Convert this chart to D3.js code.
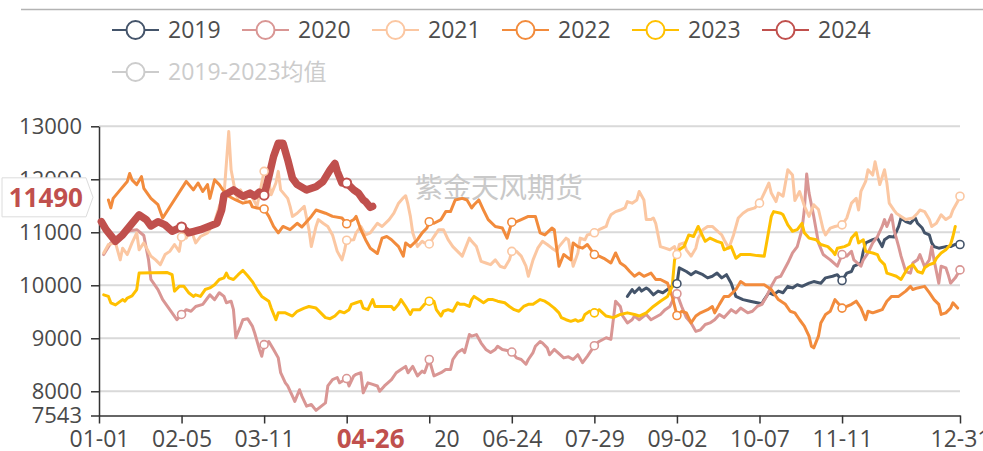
<!DOCTYPE html>
<html>
<head>
<meta charset="utf-8">
<script src="https://cdn.jsdelivr.net/npm/d3@7/dist/d3.min.js"></script>
<style>
  html, body { margin: 0; padding: 0; background: #fff; }
  svg { display: block; }
  text { font-family: "Open Sans", "Noto Sans CJK SC", sans-serif; }
</style>
</head>
<body>
<svg id="chart" width="983" height="451"></svg>
<script>
// Day-of-year (leap-year calendar, 0 = 01-01) tick positions and their labels
const tickDays   = [0, 35, 70, 105, 140, 175, 210, 245, 280, 315, 365];
const tickLabels = ["01-01", "02-05", "03-11", "04-15", "05-20", "06-24", "07-29", "09-02", "10-07", "11-11", "12-31"];
const yTicks = [7543, 8000, 9000, 10000, 11000, 12000, 13000];
const yMin = 7543, yMax = 13000;

const seriesNames = ["2019", "2020", "2021", "2022", "2023", "2024", "2019-2023均值"];
const seriesColors = ["#44546a", "#d99694", "#fbc7a2", "#f28b3c", "#ffc000", "#c0504d", "#cccccc"];

// Latest quote of the current year
const currentDay = 116, currentLabel = "04-26", currentValue = 11490;

// [day, price] pairs per year
const s2019 = [[224,9790],[226,9920],[227,9860],[229,9950],[230,9890],[232,9950],[233,9920],[235,9820],[237,9890],[239,9860],[241,9920],[243,9980],[245,10030],[246,10330],[249,10260],[251,10200],[253,10260],[256,10200],[258,10140],[260,10170],[262,10230],[264,10140],[266,10200],[268,10040],[270,9790],[273,9730],[276,9700],[279,9670],[281,9650],[282,9730],[284,9860],[286,9820],[288,9890],[290,9860],[292,9980],[294,9950],[296,10010],[298,9980],[301,10040],[303,10070],[306,10040],[308,10140],[311,10170],[313,10200],[315,10090],[317,10230],[319,10260],[320,10360],[323,10420],[324,10640],[325,10800],[328,10860],[330,10890],[332,10730],[333,10860],[335,10920],[337,10910],[339,11110],[340,11270],[342,11200],[344,11170],[346,11270],[347,11170],[349,11080],[350,10990],[352,10950],[353,10800],[354,10730],[356,10700],[359,10730],[361,10730],[363,10770],[365,10770]];

const s2020 = [[2,10580],[5,10800],[9,10920],[13,11030],[16,11050],[19,10940],[21,10480],[22,10110],[25,9920],[27,9730],[30,9540],[33,9350],[35,9450],[37,9540],[39,9510],[41,9600],[44,9640],[46,9760],[47,9820],[49,9730],[51,9860],[53,9790],[54,9670],[56,9700],[57,9540],[58,9010],[60,9230],[61,9350],[63,9370],[65,9230],[66,9100],[68,8790],[69,8660],[70,8880],[72,8940],[74,8790],[76,8630],[77,8350],[79,8160],[80,8100],[82,7910],[83,7810],[85,8030],[86,7910],[88,7720],[90,7750],[92,7640],[94,7710],[96,7780],[97,8100],[99,8220],[101,8260],[102,8160],[105,8240],[106,8100],[108,8290],[109,8320],[111,8350],[112,7970],[114,8160],[116,8130],[118,8100],[119,8000],[121,8100],[124,8220],[126,8350],[128,8410],[130,8470],[131,8350],[133,8470],[135,8290],[137,8380],[138,8350],[140,8600],[142,8290],[145,8350],[147,8410],[149,8410],[150,8600],[152,8730],[154,8790],[155,8730],[157,9070],[158,9040],[160,9070],[162,8910],[164,8790],[166,8730],[168,8790],[169,8850],[171,8790],[174,8760],[175,8740],[177,8630],[179,8600],[181,8510],[182,8600],[184,8730],[185,8850],[187,8940],[188,8910],[190,8820],[191,8690],[193,8790],[197,8630],[199,8650],[201,8600],[203,8690],[205,8540],[207,8660],[209,8790],[210,8860],[212,8940],[215,9010],[217,8980],[219,9700],[221,9600],[222,9420],[224,9290],[226,9350],[227,9420],[229,9350],[231,9420],[232,9450],[234,9350],[238,9450],[240,9540],[242,9600],[244,9790],[245,9840],[247,9600],[249,9390],[251,9290],[253,9130],[255,9160],[257,9260],[259,9290],[261,9350],[263,9450],[265,9390],[268,9540],[270,9480],[272,9570],[275,9480],[277,9510],[279,9600],[281,9640],[283,9790],[285,9980],[287,10140],[289,10170],[292,10420],[294,10610],[296,10730],[298,11050],[299,11420],[300,12100],[301,11740],[303,11300],[305,10800],[307,10580],[310,10480],[313,10360],[315,10580],[317,10550],[319,10640],[320,10480],[323,10360],[324,10480],[326,10610],[328,10800],[330,10920],[332,11110],[333,11240],[334,11110],[336,11330],[337,11050],[339,10730],[340,10550],[342,10260],[344,10230],[345,10420],[347,10480],[348,10580],[350,10350],[352,10480],[353,10730],[354,10480],[356,10040],[357,10360],[359,10330],[360,10200],[361,10040],[363,10140],[365,10290]];

const s2021 = [[2,10610],[4,10770],[7,10800],[9,10480],[10,10700],[12,10580],[14,10800],[16,10990],[17,10670],[19,10800],[22,10550],[24,10480],[26,10390],[28,10580],[30,10640],[32,10770],[34,10640],[35,10910],[37,10890],[39,11050],[41,10800],[43,10920],[46,10990],[49,11200],[51,11490],[53,11710],[54,12300],[55,12900],[56,12180],[58,11710],[59,11640],[60,11800],[62,11610],[64,11740],[67,11490],[70,12150],[71,12180],[73,11710],[75,11930],[76,12150],[77,11800],[80,11640],[81,11490],[82,11300],[84,11360],[87,11490],[89,11050],[90,10730],[92,11110],[93,11240],[95,11170],[97,11110],[99,10950],[101,10640],[103,10480],[104,10640],[105,10850],[108,10860],[109,10990],[111,11110],[113,10950],[115,10990],[116,11050],[118,11170],[120,11110],[123,11240],[125,11360],[127,11550],[129,11650],[130,11690],[131,11520],[132,11300],[133,10990],[135,10730],[137,10830],[138,10800],[140,10780],[142,10920],[144,11050],[146,11050],[148,10860],[150,10730],[152,10640],[154,10550],[157,10890],[158,10830],[160,10730],[162,10450],[164,10420],[166,10390],[168,10480],[170,10360],[172,10330],[174,10480],[175,10640],[177,10640],[179,10550],[181,10360],[182,10170],[184,10480],[186,10700],[188,10830],[190,10770],[192,10700],[194,10640],[195,10730],[198,10890],[199,10860],[201,10360],[203,10610],[204,10890],[206,10860],[207,10950],[210,10990],[212,11050],[215,11110],[216,11240],[217,11330],[219,11390],[221,11420],[223,11460],[224,11580],[226,11550],[228,11610],[229,11770],[231,11610],[232,11240],[234,11240],[235,11270],[236,11170],[238,10730],[240,10700],[242,10670],[244,10730],[245,10580],[246,10770],[248,10800],[249,10670],[251,10550],[253,10700],[254,10890],[256,11050],[258,11110],[260,11110],[263,10990],[264,10950],[265,10860],[267,10700],[269,10950],[271,11270],[273,11360],[275,11420],[278,11460],[280,11550],[282,11740],[284,11930],[285,11740],[287,11580],[288,11740],[290,11680],[292,12180],[294,12080],[295,11600],[297,11770],[299,11500],[301,11300],[303,11520],[305,11430],[307,11050],[308,10950],[310,11080],[312,11110],[315,11140],[317,11270],[319,11550],[321,11640],[322,11420],[323,11770],[325,11960],[326,12180],[328,12080],[329,12330],[330,12120],[331,11900],[333,12180],[334,11930],[335,11550],[337,11420],[338,11360],[340,11300],[342,11240],[345,11270],[347,11360],[348,11420],[350,11390],[352,11240],[353,11110],[355,11170],[357,11330],[359,11240],[361,11300],[362,11420],[364,11580],[365,11680]];

const s2022 = [[4,11610],[5,11460],[6,11640],[9,11800],[12,11960],[13,12110],[14,11990],[16,11900],[18,12050],[19,11830],[22,11640],[25,11520],[27,11270],[37,11960],[40,11800],[42,11930],[44,11770],[46,11900],[47,11640],[49,11990],[51,11900],[53,11770],[55,11680],[58,11610],[61,11550],[64,11580],[65,11480],[67,11460],[70,11440],[72,11300],[74,11110],[76,10990],[78,11110],[81,11050],[84,11170],[86,11100],[90,11300],[92,11420],[96,11360],[99,11300],[103,11270],[105,11160],[108,11240],[109,11300],[111,11050],[113,10860],[115,10700],[118,10600],[120,10890],[122,10920],[124,10860],[127,10730],[129,10550],[130,10800],[132,10730],[135,10860],[137,10990],[139,11080],[140,11200],[142,11170],[145,11240],[147,11390],[149,11390],[151,11610],[154,11640],[156,11610],[158,11460],[159,11520],[161,11610],[163,11420],[165,11240],[168,11110],[171,11080],[173,10890],[175,11190],[177,11200],[179,11240],[182,11300],[185,11300],[187,10990],[189,10950],[192,11080],[193,11050],[195,10360],[197,10580],[200,10480],[201,10800],[203,10730],[205,10700],[207,10770],[210,10580],[212,10550],[214,10510],[217,10420],[219,10610],[221,10420],[223,10360],[225,10260],[227,10170],[229,10230],[231,10170],[234,10230],[236,10110],[238,10110],[241,10040],[243,9790],[245,9430],[247,9510],[249,9480],[251,9290],[253,9420],[255,9480],[258,9540],[260,9600],[261,9480],[263,9640],[265,9790],[267,9790],[270,9920],[272,10070],[274,10010],[278,10010],[282,10010],[285,9920],[288,9730],[291,9640],[293,9510],[295,9480],[297,9350],[299,9230],[301,9040],[302,8850],[303,8820],[305,9040],[306,9290],[308,9450],[310,9510],[312,9730],[315,9570],[317,9600],[319,9640],[321,9700],[323,9570],[325,9350],[326,9510],[328,9480],[330,9510],[332,9540],[334,9700],[336,9790],[339,9790],[342,9890],[344,9980],[345,9920],[347,9950],[350,9980],[352,9860],[354,9730],[356,9640],[357,9450],[359,9480],[361,9570],[362,9670],[364,9570]];

const s2023 = [[2,9820],[4,9790],[5,9670],[7,9630],[10,9730],[11,9700],[12,9760],[14,9800],[16,9920],[17,10230],[29,10240],[31,10200],[32,9890],[34,9980],[36,9980],[38,9860],[40,9790],[41,9820],[43,9790],[45,9920],[47,9950],[49,10010],[51,10110],[53,10140],[54,10230],[55,10140],[57,10110],[59,10200],[61,10280],[63,10180],[65,10070],[67,9920],[69,9790],[72,9700],[73,9570],[75,9350],[76,9480],[79,9480],[82,9420],[84,9510],[87,9570],[89,9600],[92,9570],[94,9480],[96,9390],[98,9370],[100,9420],[102,9510],[104,9480],[106,9540],[107,9640],[109,9670],[111,9700],[112,9570],[114,9540],[116,9730],[117,9600],[122,9600],[124,9600],[125,9540],[127,9640],[128,9730],[130,9600],[132,9450],[133,9540],[136,9540],[138,9640],[140,9700],[142,9700],[143,9540],[145,9420],[146,9510],[148,9540],[150,9510],[152,9670],[153,9640],[155,9640],[157,9600],[158,9730],[159,9790],[161,9730],[163,9670],[165,9730],[167,9730],[169,9700],[172,9670],[174,9600],[176,9540],[178,9510],[180,9600],[182,9640],[184,9640],[187,9730],[189,9700],[191,9640],[193,9570],[195,9480],[196,9390],[198,9350],[200,9320],[202,9350],[203,9320],[205,9350],[206,9450],[208,9510],[210,9480],[212,9540],[215,9420],[218,9390],[221,9450],[224,9480],[227,9450],[229,9420],[232,9480],[235,9600],[238,9700],[241,9790],[243,9980],[244,10480],[246,10670],[248,10730],[250,10950],[252,10920],[254,11110],[256,10920],[257,10830],[259,10890],[262,10830],[264,10800],[265,10670],[268,10730],[270,10510],[272,10580],[276,10580],[279,10560],[282,10550],[285,11300],[286,11390],[289,11360],[290,11330],[292,11140],[294,11020],[296,11050],[298,11170],[299,10990],[301,10890],[304,10860],[306,10770],[309,10730],[311,10640],[312,10580],[313,10700],[316,10730],[318,10770],[319,10890],[321,10990],[322,10800],[324,10860],[325,10640],[328,10610],[330,10580],[331,10480],[333,10390],[334,10230],[336,10200],[338,10170],[340,10110],[342,10260],[343,10330],[345,10390],[347,10260],[349,10230],[350,10330],[352,10390],[354,10420],[355,10510],[357,10610],[359,10670],[361,10770],[362,10920],[363,11110]];

const s2024 = [[1,11200],[3,11050],[7,10830],[10,10950],[14,11170],[17,11330],[20,11240],[22,11120],[25,11200],[28,11140],[31,11020],[35,11100],[38,10990],[43,11050],[50,11170],[52,11420],[53,11700],[57,11800],[61,11680],[64,11740],[66,11680],[68,11760],[70,11700],[72,12050],[74,12430],[76,12680],[78,12680],[80,12370],[82,12020],[84,11900],[88,11800],[92,11860],[95,11960],[98,12180],[100,12300],[101,12150],[103,11930],[105,11930],[108,11800],[110,11740],[112,11610],[113,11580],[115,11470],[116,11490]];

const seriesData = [s2019, s2020, s2021, s2022, s2023, s2024];
const seriesWidth = [3, 3, 3, 3, 3, 7.5];

const svg = d3.select("#chart");
const W = 983, H = 451;
const plot = { left: 99, right: 960, top: 126.3, bottom: 415.5 };

const x = d3.scaleLinear().domain([0, 365]).range([plot.left, plot.right]);
const y = d3.scaleLinear().domain([yMin, yMax]).range([plot.bottom, plot.top]);

// top rule
svg.append("line")
  .attr("x1", 21).attr("x2", W).attr("y1", 9.5).attr("y2", 9.5)
  .attr("stroke", "#b3b3b3").attr("stroke-width", 1.5);

// horizontal grid
svg.append("g").selectAll("line")
  .data(yTicks.filter(v => v !== yMin))
  .join("line")
  .attr("x1", plot.left).attr("x2", plot.right)
  .attr("y1", d => y(d)).attr("y2", d => y(d))
  .attr("stroke", "#d9d9d9").attr("stroke-width", 2);

// watermark
svg.append("text")
  .attr("x", 499).attr("y", 198)
  .attr("text-anchor", "middle")
  .attr("font-family", "Noto Sans CJK SC")
  .attr("font-size", 28)
  .attr("fill", "#c9c9c9")
  .text("紫金天风期货");

// y axis
const yAxis = svg.append("g")
  .attr("transform", `translate(${plot.left},0)`)
  .call(d3.axisLeft(y).tickValues(yTicks).tickFormat(d3.format("d"))
        .tickSize(8).tickPadding(9).tickSizeOuter(0));
yAxis.select(".domain").attr("stroke", "#333").attr("stroke-width", 1.5);
yAxis.selectAll(".tick line").attr("stroke", "#333").attr("stroke-width", 1.5);
yAxis.selectAll(".tick text").attr("font-size", 22).attr("fill", "#4a4a4a")
  .attr("font-family", "Open Sans");

// x axis
const xAxis = svg.append("g")
  .attr("transform", `translate(0,${plot.bottom})`)
  .call(d3.axisBottom(x).tickValues(tickDays).tickFormat((d, i) => tickLabels[i])
        .tickSize(8).tickSizeOuter(0));
xAxis.select(".domain").attr("stroke", "#333").attr("stroke-width", 1.5);
xAxis.selectAll(".tick line").attr("stroke", "#333").attr("stroke-width", 1.5);
xAxis.selectAll(".tick text").attr("font-size", 23).attr("fill", "#4a4a4a")
  .attr("font-family", "Open Sans").attr("y", 15);

// series lines
const line = d3.line().x(d => x(d[0])).y(d => y(d[1]));
const linesG = svg.append("g");
seriesData.forEach((data, i) => {
  linesG.append("path")
    .datum(data)
    .attr("d", line)
    .attr("fill", "none")
    .attr("stroke", seriesColors[i])
    .attr("stroke-width", seriesWidth[i])
    .attr("stroke-linejoin", "round")
    .attr("stroke-linecap", "round");
});

// hollow markers on tick dates
const tickSet = new Set(tickDays);
seriesData.forEach((data, i) => {
  linesG.append("g").selectAll("circle")
    .data(data.filter(d => tickSet.has(d[0])))
    .join("circle")
    .attr("cx", d => x(d[0])).attr("cy", d => y(d[1]))
    .attr("r", i === 5 ? 4.5 : 4)
    .attr("fill", "#fff")
    .attr("stroke", seriesColors[i])
    .attr("stroke-width", i === 5 ? 2 : 1.6);
});

// current value marker on y axis
const cy = y(currentValue) - 9;
svg.append("path")
  .attr("d", `M2,${cy - 19.5} H86 L93,${cy} L86,${cy + 19.5} H2 Z`)
  .attr("fill", "#fff").attr("stroke", "#dcdcdc").attr("stroke-width", 1);
svg.append("text")
  .attr("x", 83).attr("y", cy + 9.5)
  .attr("text-anchor", "end")
  .attr("font-size", 26).attr("font-weight", "bold")
  .attr("fill", "#c0504d")
  .text(d3.format("d")(currentValue));

// current date marker on x axis
const cx = x(currentDay);
svg.append("rect")
  .attr("x", cx - 65).attr("y", plot.bottom + 9)
  .attr("width", 128).attr("height", H - plot.bottom - 9)
  .attr("fill", "#fff");
svg.append("text")
  .attr("x", cx - 2).attr("y", 448)
  .attr("text-anchor", "middle")
  .attr("font-size", 26).attr("font-weight", "bold")
  .attr("fill", "#c0504d")
  .text(currentLabel);

// legend
const legend = svg.append("g");
seriesNames.forEach((name, i) => {
  const col = i % 6, row = Math.floor(i / 6);
  const lx = 112 + col * 130, ly = 30 + row * 42;
  const inactive = i === 6;
  const c = inactive ? "#cccccc" : seriesColors[i];
  const g = legend.append("g");
  g.append("line").attr("x1", lx).attr("x2", lx + 47).attr("y1", ly).attr("y2", ly)
    .attr("stroke", c).attr("stroke-width", 2);
  g.append("circle").attr("cx", lx + 23.5).attr("cy", ly).attr("r", 9)
    .attr("fill", "#fff").attr("stroke", c).attr("stroke-width", 2);
  g.append("text").attr("x", lx + 56).attr("y", ly + 8)
    .attr("font-size", 23)
    .attr("fill", inactive ? "#cccccc" : "#4d4d4d")
    .text(name);
});
</script>
</body>
</html>
